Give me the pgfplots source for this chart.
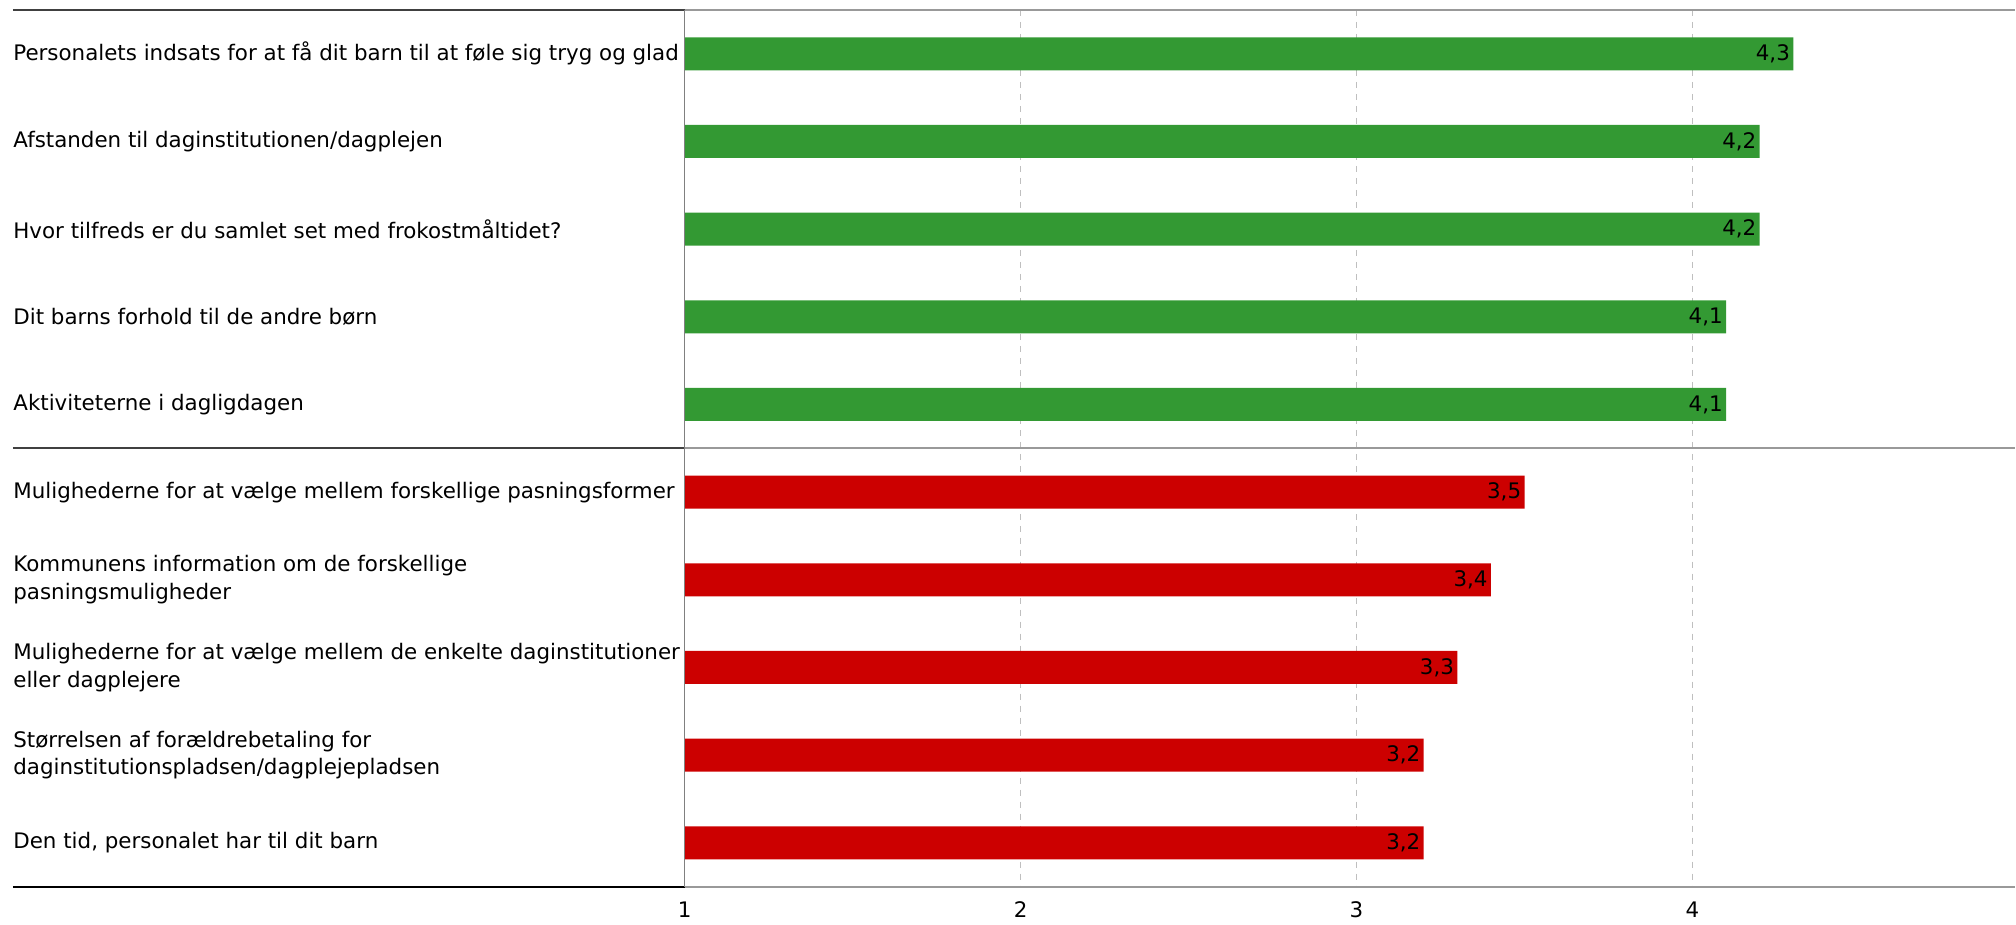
\documentclass[border=0pt]{standalone}
\usepackage{fontspec}
\setmainfont{DejaVu Sans}
\usepackage{pgfplots}
\pgfplotsset{compat=1.18}
\definecolor{bargreen}{RGB}{51,153,51}
\definecolor{barred}{RGB}{204,0,0}
\begin{document}
\begin{tikzpicture}[font=\fontsize{10.7}{13.8}\selectfont]
\begin{axis}[
    name=ax,
    scale only axis,
    width=665.5pt, height=438.5pt,
    xbar, bar width=16.5pt, bar shift=0pt,
    xmin=1, xmax=4.96,
    ymin=-0.5, ymax=9.5, y dir=reverse,
    xtick={1,2,3,4},
    ytick={0,...,9},
    yticklabels={
        Personalets indsats for at få dit barn til at føle sig tryg og glad,
        Afstanden til daginstitutionen/dagplejen,
        Hvor tilfreds er du samlet set med frokostmåltidet?,
        Dit barns forhold til de andre børn,
        Aktiviteterne i dagligdagen,
        Mulighederne for at vælge mellem forskellige pasningsformer,
        Kommunens information om de forskellige\\pasningsmuligheder,
        Mulighederne for at vælge mellem de enkelte daginstitutioner\\eller dagplejere,
        Størrelsen af forældrebetaling for\\daginstitutionspladsen/dagplejepladsen,
        {Den tid, personalet har til dit barn}
    },
    yticklabel style={anchor=west, xshift=-336pt, align=left, inner sep=0pt},
    xticklabel style={yshift=-4pt},
    axis line style={draw=none},
    major tick length=0pt,
    xmajorgrids,
    grid style={dashed, black!25},
    /pgf/number format/assume math mode=true,
    nodes near coords,
    every node near coord/.append style={anchor=east, inner sep=1.5pt, text=black,
        /pgf/number format/.cd, fixed, fixed zerofill, precision=1, use comma},
]
\addplot[draw=none, fill=bargreen] coordinates {(4.3,0) (4.2,1) (4.2,2) (4.1,3) (4.1,4)};
\addplot[draw=none, fill=barred] coordinates {(3.5,5) (3.4,6) (3.3,7) (3.2,8) (3.2,9)};
\end{axis}
\draw[black!75, line width=1pt] ([xshift=-336pt]ax.north west) -- (ax.north west);
\draw[black!40, line width=1pt] (ax.north west) -- (ax.north east);
\draw[black!75, line width=1pt] ([xshift=-336pt]ax.west) -- (ax.west);
\draw[black!40, line width=1pt] (ax.west) -- (ax.east);
\draw[black, line width=1pt] ([xshift=-336pt]ax.south west) -- (ax.south west);
\draw[black!40, line width=1pt] (ax.south west) -- (ax.south east);
\draw[black!50, line width=0.5pt] (ax.north west) -- (ax.south west);
\path ([xshift=-342.5pt, yshift=5pt]ax.north west) rectangle ([yshift=-17pt]ax.south east);
\end{tikzpicture}
\end{document}
